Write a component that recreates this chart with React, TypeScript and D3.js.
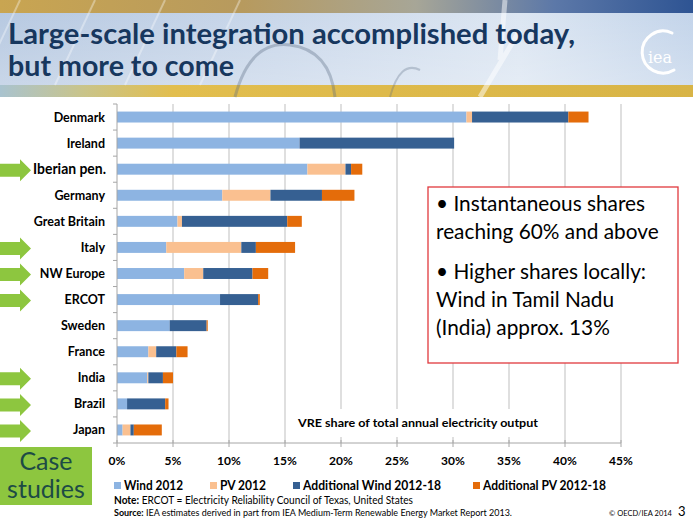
import React from "react";
import * as d3 from "d3";

const categories = ["Denmark","Ireland","Iberian pen.","Germany","Great Britain","Italy","NW Europe","ERCOT","Sweden","France","India","Brazil","Japan"];
const wind2012 = [31.2,16.3,17.0,9.4,5.4,4.4,6.0,9.2,4.7,2.8,2.7,0.9,0.5];
const pv2012 = [0.5,0,3.4,4.3,0.4,6.7,1.7,0,0,0.7,0.1,0,0.7];
const addWind = [8.6,13.8,0.5,4.6,9.4,1.3,4.4,3.4,3.3,1.8,1.3,3.4,0.3];
const addPV = [1.8,0,1.0,2.9,1.3,3.5,1.4,0.15,0.1,1.0,0.9,0.3,2.5];
const seriesNames = ["Wind 2012","PV 2012","Additional Wind 2012-18","Additional PV 2012-18"];
const seriesKeys = ["wind2012","pv2012","addWind","addPV"];
const seriesColors = ["#8DB4E2","#FAC090","#366092","#E46C0A"];
const xTicks = [0,5,10,15,20,25,30,35,40,45];
const caseStudies = ["Iberian pen.","Italy","NW Europe","ERCOT","India","Brazil","Japan"];
const legendX = [114,210,293,473];
const legendW = [59,46,138,123];

const FONT = "Lato, 'Open Sans', sans-serif";

export default function App() {
  const x = d3.scaleLinear().domain([0, 45]).range([117, 621]);
  const y = d3.scaleBand<string>().domain(categories).range([104, 443]).paddingInner(0.58).paddingOuter(0.29);
  const rows = categories.map((c, i) => ({ cat: c, wind2012: wind2012[i], pv2012: pv2012[i], addWind: addWind[i], addPV: addPV[i] }));
  const stacked = d3.stack<any>().keys(seriesKeys)(rows);
  const step = y.step();
  const boundaries = d3.range(categories.length + 1).map(i => 104 + i * step);

  return (
    <svg width={693} height={520} style={{ position: "absolute", left: 0, top: 0, fontFamily: FONT }}>
      <defs>
        <linearGradient id="topband" x1="0" x2="1" y1="0" y2="0">
          <stop offset="0" stopColor="#C9A551" />
          <stop offset="0.35" stopColor="#B79A5E" />
          <stop offset="0.6" stopColor="#A7A697" />
          <stop offset="0.8" stopColor="#5C78A8" />
          <stop offset="1" stopColor="#2E5493" />
        </linearGradient>
        <linearGradient id="midband" x1="0" x2="1" y1="0" y2="0">
          <stop offset="0" stopColor="#B7C9E1" />
          <stop offset="0.4" stopColor="#C9D7EA" />
          <stop offset="0.75" stopColor="#DCE6F2" />
          <stop offset="1" stopColor="#C3D4EA" />
        </linearGradient>
        <linearGradient id="botband" x1="0" x2="1" y1="0" y2="0">
          <stop offset="0" stopColor="#A9C3CF" />
          <stop offset="0.12" stopColor="#C9C48A" />
          <stop offset="0.25" stopColor="#E2BE4E" />
          <stop offset="1" stopColor="#D8B446" />
        </linearGradient>
        <linearGradient id="fadeTop" x1="0" x2="0" y1="0" y2="1">
          <stop offset="0" stopColor="#ffffff" stopOpacity="0.0" />
          <stop offset="1" stopColor="#ffffff" stopOpacity="0.25" />
        </linearGradient>
      </defs>

      {/* Header banner */}
      <rect x={0} y={0} width={693} height={13} fill="url(#topband)" />
      <rect x={0} y={13} width={693} height={72} fill="url(#midband)" />
      <rect x={0} y={13} width={693} height={72} fill="url(#fadeTop)" />
      <rect x={0} y={85} width={693} height={12} fill="url(#botband)" />
      {[20, 95, 165, 240].map((sx, i) => (
        <line key={i} x1={sx} y1={0} x2={sx - 40} y2={85} stroke="#ffffff" strokeOpacity={0.35} strokeWidth={2} />
      ))}
      <path d="M 235 97 Q 250 40 290 45 Q 330 50 335 97" fill="none" stroke="#5A6A80" strokeOpacity={0.35} strokeWidth={3} />
      <path d="M 390 97 Q 400 60 420 70" fill="none" stroke="#5A6A80" strokeOpacity={0.3} strokeWidth={2} />
      <path d="M 520 30 L 480 97 M 505 0 L 500 60" stroke="#ffffff" strokeOpacity={0.5} strokeWidth={5} />
      <text x={8} y={44} fontFamily={FONT} fontWeight={700} fontSize={28.5} fill="#17375E" textLength={567} lengthAdjust="spacingAndGlyphs">Large-scale integration accomplished today,</text>
      <text x={8} y={76} fontFamily={FONT} fontWeight={700} fontSize={28.5} fill="#17375E" textLength={226} lengthAdjust="spacingAndGlyphs">but more to come</text>

      {/* IEA logo */}
      <path d="M 672 33 A 21 21 0 1 0 674 70" fill="none" stroke="#ffffff" strokeWidth={3} strokeLinecap="round" />
      <text x={660} y={63} textAnchor="middle" fontFamily="'DejaVu Serif', serif" fontSize={16} fill="#ffffff">iea</text>

      {/* Gridlines */}
      {xTicks.slice(1).map(t => (
        <line key={t} x1={x(t)} x2={x(t)} y1={104} y2={443} stroke="#BFBFBF" strokeWidth={1} />
      ))}

      {/* Bars */}
      {stacked.map((s, si) => (
        <g key={seriesKeys[si]} fill={seriesColors[si]}>
          {s.map((d: any, i: number) => (
            <rect key={i} x={x(d[0])} y={y(categories[i])} width={Math.max(0, x(d[1]) - x(d[0]))} height={y.bandwidth()} />
          ))}
        </g>
      ))}

      {/* Axes */}
      <line x1={117} x2={117} y1={104} y2={443} stroke="#A6A6A6" />
      {boundaries.map((b, i) => (
        <line key={i} x1={113} x2={117} y1={b} y2={b} stroke="#A6A6A6" />
      ))}
      <line x1={117} x2={621} y1={443} y2={443} stroke="#A6A6A6" />
      {xTicks.map(t => (
        <line key={t} x1={x(t)} x2={x(t)} y1={440} y2={447} stroke="#A6A6A6" />
      ))}
      {xTicks.map(t => (
        <text key={t} x={x(t)} y={465} textAnchor="middle" fontFamily={FONT} fontWeight={700} fontSize={12} fill="#000">{t}%</text>
      ))}

      {/* Case study arrows */}
      {caseStudies.map(c => {
        const cy = (y(c) as number) + y.bandwidth() / 2 + 1;
        return (
          <path key={c} d={`M0 ${cy - 6.5} L20 ${cy - 6.5} L20 ${cy - 11} L31 ${cy} L20 ${cy + 11} L20 ${cy + 6.5} L0 ${cy + 6.5} Z`} fill="#8DC63F" />
        );
      })}

      {/* Category labels */}
      {categories.map(c => c === "Iberian pen." ? (
        <text key={c} x={33} y={(y(c) as number) + y.bandwidth() / 2 + 5}
          fontFamily={FONT} fontWeight={700} fontSize={14.5} fill="#000" textLength={73} lengthAdjust="spacingAndGlyphs">{c}</text>
      ) : (
        <text key={c} x={105} y={(y(c) as number) + y.bandwidth() / 2 + 4.5}
          textAnchor="end" fontFamily={FONT} fontWeight={700} fontSize={12.5} fill="#000">{c}</text>
      ))}

      {/* VRE label */}
      <rect x={290} y={409} width={258} height={28} fill="#ffffff" />
      <text x={298} y={427} fontFamily={FONT} fontWeight={700} fontSize={12} fill="#000" textLength={240} lengthAdjust="spacingAndGlyphs">VRE share of total annual electricity output</text>

      {/* Red note box */}
      <rect x={428} y={187} width={250} height={176} fill="#ffffff" stroke="#E0393E" strokeWidth={1.3} />
      <g fontFamily={FONT} fontSize={20.8} fill="#000">
        <text x={436} y={211}>• Instantaneous shares</text>
        <text x={436} y={239}>reaching 60% and above</text>
        <text x={436} y={279}>• Higher shares locally:</text>
        <text x={436} y={307}>Wind in Tamil Nadu</text>
        <text x={436} y={335}>(India) approx. 13%</text>
      </g>

      {/* Case studies box */}
      <rect x={0} y={447} width={92} height={58} fill="#8DC63F" />
      <text x={46} y={470} textAnchor="middle" fontFamily={FONT} fontSize={25} fill="#1D4B45">Case</text>
      <text x={46} y={498} textAnchor="middle" fontFamily={FONT} fontSize={25} fill="#1D4B45">studies</text>

      {/* Legend */}
      {seriesNames.map((n, i) => (
        <g key={n}>
          <rect x={legendX[i]} y={482} width={7} height={7} fill={seriesColors[i]} />
          <text x={legendX[i] + 10} y={490} fontFamily={FONT} fontWeight={700} fontSize={14} fill="#000" textLength={legendW[i]} lengthAdjust="spacingAndGlyphs">{n}</text>
        </g>
      ))}

      {/* Notes */}
      <text x={114} y={504} fontFamily={FONT} fontSize={11} fill="#000" textLength={299} lengthAdjust="spacingAndGlyphs">
        <tspan fontWeight={700}>Note:</tspan><tspan>{"  ERCOT = Electricity Reliability Council of Texas, United States"}</tspan>
      </text>
      <text x={114} y={516} fontFamily={FONT} fontSize={9} fill="#000" textLength={398} lengthAdjust="spacingAndGlyphs">
        <tspan fontWeight={700}>Source:</tspan><tspan>{" IEA estimates derived in part from IEA Medium-Term Renewable Energy Market Report 2013."}</tspan>
      </text>
      <text x={609} y={516} fontFamily={FONT} fontSize={7.5} fill="#000">© OECD/IEA 2014</text>
      <text x={678} y={516} fontFamily={FONT} fontSize={13} fill="#000">3</text>
    </svg>
  );
}
